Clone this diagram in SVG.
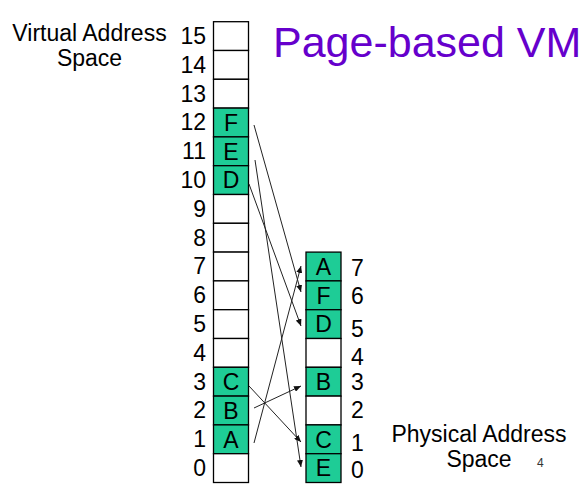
<svg xmlns="http://www.w3.org/2000/svg" width="586" height="494" viewBox="0 0 586 494">
<style>
text{font-family:"Liberation Sans",Arial,sans-serif;fill:#000}
.lbl{font-size:23px}
.num{font-size:23px}
.r{text-anchor:end}
.c{text-anchor:middle}
.cell{fill:#fff;stroke:#000;stroke-width:1.3}
.g{fill:#1ECC96}
.conn line{stroke:#222;stroke-width:1;fill:none;marker-end:url(#ah)}
</style>
<defs>
<marker id="ah" markerUnits="userSpaceOnUse" markerWidth="8" markerHeight="6" refX="7" refY="3" orient="auto">
<path d="M0,0 L7,3 L0,6 z" fill="#111"/>
</marker>
</defs>
<rect width="586" height="494" fill="#fff"/>
<text id="title" x="273" y="57" style="font-size:43px;fill:#6600CC">Page-based VM</text>
<g id="vas-label">
<text class="lbl c" x="89.5" y="40.5">Virtual Address</text>
<text class="lbl c" x="89.5" y="66">Space</text>
</g>
<g id="pas-label">
<text class="lbl c" x="479" y="441.5">Physical Address</text>
<text class="lbl c" x="479" y="467">Space</text>
</g>
<text id="page-num" x="537" y="467" style="font-size:12px;fill:#333">4</text>
<g id="virtual">
<rect class="cell" x="213.5" y="21.7" width="35" height="28.8"/>
<rect class="cell" x="213.5" y="50.5" width="35" height="28.8"/>
<rect class="cell" x="213.5" y="79.3" width="35" height="28.8"/>
<rect class="cell g" x="213.5" y="108.1" width="35" height="28.8"/>
<rect class="cell g" x="213.5" y="136.9" width="35" height="28.8"/>
<rect class="cell g" x="213.5" y="165.7" width="35" height="28.8"/>
<rect class="cell" x="213.5" y="194.5" width="35" height="28.8"/>
<rect class="cell" x="213.5" y="223.3" width="35" height="28.8"/>
<rect class="cell" x="213.5" y="252.1" width="35" height="28.8"/>
<rect class="cell" x="213.5" y="280.9" width="35" height="28.8"/>
<rect class="cell" x="213.5" y="309.7" width="35" height="28.8"/>
<rect class="cell" x="213.5" y="338.5" width="35" height="28.8"/>
<rect class="cell g" x="213.5" y="367.3" width="35" height="28.8"/>
<rect class="cell g" x="213.5" y="396.1" width="35" height="28.8"/>
<rect class="cell g" x="213.5" y="424.9" width="35" height="28.8"/>
<rect class="cell" x="213.5" y="453.7" width="35" height="28.8"/>
<text class="num c" x="231" y="130.8">F</text>
<text class="num c" x="231" y="159.6">E</text>
<text class="num c" x="231" y="188.4">D</text>
<text class="num c" x="231" y="390">C</text>
<text class="num c" x="231" y="418.8">B</text>
<text class="num c" x="231" y="447.6">A</text>
<text class="num r" x="206" y="44">15</text>
<text class="num r" x="206" y="72.8">14</text>
<text class="num r" x="206" y="101.6">13</text>
<text class="num r" x="206" y="130.4">12</text>
<text class="num r" x="206" y="159.2">11</text>
<text class="num r" x="206" y="188">10</text>
<text class="num r" x="206" y="216.8">9</text>
<text class="num r" x="206" y="245.6">8</text>
<text class="num r" x="206" y="274.4">7</text>
<text class="num r" x="206" y="303.2">6</text>
<text class="num r" x="206" y="332">5</text>
<text class="num r" x="206" y="360.8">4</text>
<text class="num r" x="206" y="389.6">3</text>
<text class="num r" x="206" y="418.4">2</text>
<text class="num r" x="206" y="447.2">1</text>
<text class="num r" x="206" y="476">0</text>
</g>
<g id="physical">
<rect class="cell g" x="306" y="252.1" width="35" height="28.8"/>
<rect class="cell g" x="306" y="280.9" width="35" height="28.8"/>
<rect class="cell g" x="306" y="309.7" width="35" height="28.8"/>
<rect class="cell" x="306" y="338.5" width="35" height="28.8"/>
<rect class="cell g" x="306" y="367.3" width="35" height="28.8"/>
<rect class="cell" x="306" y="396.1" width="35" height="28.8"/>
<rect class="cell g" x="306" y="424.9" width="35" height="28.8"/>
<rect class="cell g" x="306" y="453.7" width="35" height="28.8"/>
<text class="num c" x="323.5" y="274.8">A</text>
<text class="num c" x="323.5" y="303.6">F</text>
<text class="num c" x="323.5" y="332.4">D</text>
<text class="num c" x="323.5" y="390">B</text>
<text class="num c" x="323.5" y="447.6">C</text>
<text class="num c" x="323.5" y="476.4">E</text>
<text class="num" x="351" y="276">7</text>
<text class="num" x="351" y="304">6</text>
<text class="num" x="351" y="337">5</text>
<text class="num" x="351" y="365">4</text>
<text class="num" x="351" y="390">3</text>
<text class="num" x="351" y="418">2</text>
<text class="num" x="351" y="451">1</text>
<text class="num" x="351" y="478">0</text>
</g>
<g id="connectors" class="conn">
<line x1="254" y1="125" x2="301" y2="292"/>
<line x1="255" y1="160" x2="301" y2="467"/>
<line x1="249" y1="184" x2="301" y2="326"/>
<line x1="249" y1="386" x2="301" y2="442"/>
<line x1="254" y1="408" x2="301" y2="386"/>
<line x1="254" y1="443" x2="301" y2="266"/>
</g>
</svg>
